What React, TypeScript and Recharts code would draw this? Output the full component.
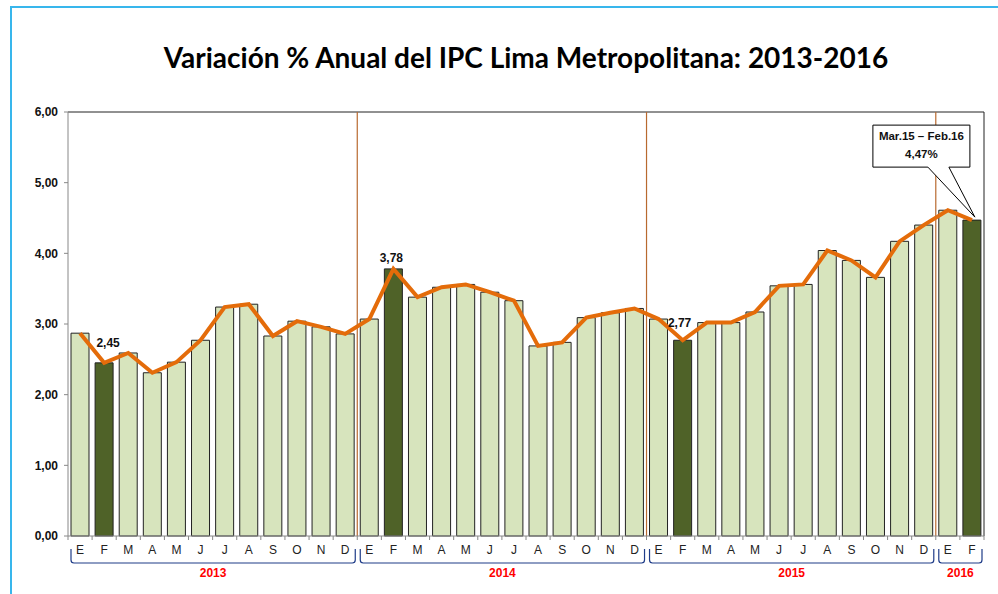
import React from "react";
import { ComposedChart, Bar, Line, XAxis, YAxis, Cell, LabelList, ReferenceLine } from "recharts";

const YEARS = ["2013", "2014", "2015", "2016"];
const MONTHS = ["E", "F", "M", "A", "M", "J", "J", "A", "S", "O", "N", "D"];
const IPC_2013 = [2.87, 2.45, 2.59, 2.31, 2.46, 2.77, 3.24, 3.28, 2.83, 3.04, 2.96, 2.86];
const IPC_2014 = [3.07, 3.78, 3.38, 3.52, 3.56, 3.45, 3.33, 2.69, 2.74, 3.09, 3.16, 3.22];
const IPC_2015 = [3.07, 2.77, 3.02, 3.02, 3.17, 3.54, 3.56, 4.04, 3.9, 3.66, 4.17, 4.4];
const IPC_2016 = [4.61, 4.47];
const Y_TICKS = [0, 1, 2, 3, 4, 5, 6];
const TITLE = "Variación % Anual del IPC Lima Metropolitana: 2013-2016";
const CALLOUT_TITLE = "Mar.15 – Feb.16";

const SERIES = [IPC_2013, IPC_2014, IPC_2015, IPC_2016];

const rows = YEARS.flatMap((year, k) =>
  SERIES[k].map((v, j) => ({ month: MONTHS[j], year, v }))
).map((r, i) => ({ ...r, i }));

// year spans (start index, end index) for the brackets under the axis
const spans = YEARS.map((year) => {
  const idx = rows.filter((r) => r.year === year).map((r) => r.i);
  return { year, s: idx[0], e: idx[idx.length - 1] };
});

// first month of each year after the first: separators go at the start of its band
const yearBreaks = spans.slice(1).map((s) => s.s);

const W = 998;
const H = 594;
const Y_W = 68;
const M_RIGHT = 14;
const M_TOP = 112;
const X_H = 58;
const N = rows.length;
const BW = (W - Y_W - M_RIGHT) / N;

const FONT = "'Liberation Sans', Arial, sans-serif";
const LIGHT = "#d7e4bd";
const DARK = "#4f6228";
const ORANGE = "#e46c0a";
const SEP = "#b8692f";

const fmt = (v: number) => v.toFixed(2).replace(".", ",");

function MonthTick(props: any) {
  const { x, y, payload } = props;
  const i = Number(payload.value);
  const r = rows[i];
  const span = spans.find((s) => s.s === i);
  const last = i === N - 1;
  return (
    <g>
      <line x1={x - BW / 2} x2={x - BW / 2} y1={y} y2={y + 4} stroke="#888" />
      {last && <line x1={x + BW / 2} x2={x + BW / 2} y1={y} y2={y + 4} stroke="#888" />}
      <text x={x} y={y + 18} textAnchor="middle" fontFamily={FONT} fontSize={12} fill="#222">
        {r.month}
      </text>
      {span && (() => {
        const x0 = x - BW / 2 + 3;
        const x1 = x + (span.e - span.s + 0.5) * BW - 2;
        return (
          <g>
            <path
              d={`M${x0},${y + 13} L${x0},${y + 24} Q${x0},${y + 27} ${x0 + 3},${y + 27} L${x1 - 3},${y + 27} Q${x1},${y + 27} ${x1},${y + 24} L${x1},${y + 13}`}
              fill="none"
              stroke="#1f3c88"
              strokeWidth={1.2}
            />
            <text
              x={(x0 + x1) / 2}
              y={y + 41}
              textAnchor="middle"
              fontFamily={FONT}
              fontWeight="bold"
              fontSize={12}
              fill="#ff0000"
            >
              {span.year}
            </text>
          </g>
        );
      })()}
    </g>
  );
}

const NUDGE: Record<number, [number, number]> = {
  1: [4, -16],
  13: [-2, -7],
  25: [-3, -13],
};

function ValueLabel(props: any) {
  const { x, y, width, value, index } = props;
  const cx = x + width / 2;
  if (index === N - 1) {
    const left = cx - 99;
    const right = cx - 2;
    const top = y - 95;
    const bottom = y - 53;
    return (
      <g>
        <path
          d={`M${left},${top} H${right} V${bottom} H${cx - 23} L${cx + 3},${y - 3} L${cx - 44},${bottom} H${left} Z`}
          fill="#fff"
          stroke="#000"
          strokeWidth={1}
        />
        <text x={(left + right) / 2} y={y - 80} textAnchor="middle" fontFamily={FONT} fontWeight="bold" fontSize={11.5} fill="#111">
          {CALLOUT_TITLE}
        </text>
        <text x={(left + right) / 2} y={y - 62} textAnchor="middle" fontFamily={FONT} fontWeight="bold" fontSize={11.5} fill="#111">
          {fmt(value) + "%"}
        </text>
      </g>
    );
  }
  const n = NUDGE[index];
  if (!n) return null;
  return (
    <text x={cx + n[0]} y={y + n[1]} textAnchor="middle" fontFamily={FONT} fontWeight="bold" fontSize={12} fill="#111">
      {fmt(value)}
    </text>
  );
}

export default function App() {
  return (
    <div style={{ position: "absolute", left: 0, top: 0, width: W, height: H, background: "#fff", overflow: "hidden" }}>
      <div
        style={{
          position: "absolute",
          left: 10,
          top: 6,
          width: W,
          height: H,
          borderTop: "2px solid #38b6ec",
          borderLeft: "2px solid #38b6ec",
        }}
      />
      <div
        style={{
          position: "absolute",
          left: Y_W,
          width: W - Y_W - M_RIGHT,
          top: 40,
          textAlign: "center",
          fontFamily: "Lato, 'Open Sans', sans-serif",
          fontWeight: "bold",
          fontSize: 28,
          lineHeight: "34px",
          color: "#000",
        }}
      >
        {TITLE}
      </div>
      <div style={{ position: "absolute", left: 0, top: 0 }}>
        <ComposedChart width={W} height={H} data={rows} margin={{ top: M_TOP, right: M_RIGHT, bottom: 0, left: 0 }}>
          <XAxis
            dataKey="i"
            type="category"
            height={X_H}
            interval={0}
            tickLine={false}
            tickSize={0}
            tickMargin={0}
            axisLine={{ stroke: "#888" }}
            tick={<MonthTick />}
          />
          <YAxis
            width={Y_W}
            domain={[0, 6]}
            ticks={Y_TICKS}
            tickFormatter={fmt}
            tickSize={4}
            tickMargin={6}
            axisLine={{ stroke: "#888" }}
            tickLine={{ stroke: "#888" }}
            tick={{ fontFamily: FONT, fontWeight: "bold", fontSize: 12, fill: "#111" }}
          />
          <ReferenceLine y={6} stroke="#222" />
          <ReferenceLine x={N - 1} position="end" stroke="#222" />
          {yearBreaks.map((b) => (
            <ReferenceLine key={b} x={b} position="start" stroke={SEP} strokeWidth={1.2} />
          ))}
          <Bar dataKey="v" barSize={18} stroke="#222" strokeWidth={1} isAnimationActive={false}>
            {rows.map((r) => (
              <Cell key={r.i} fill={r.month === "F" ? DARK : LIGHT} />
            ))}
            <LabelList dataKey="v" content={<ValueLabel />} />
          </Bar>
          <Line dataKey="v" stroke={ORANGE} strokeWidth={4} dot={false} isAnimationActive={false} />
        </ComposedChart>
      </div>
    </div>
  );
}
